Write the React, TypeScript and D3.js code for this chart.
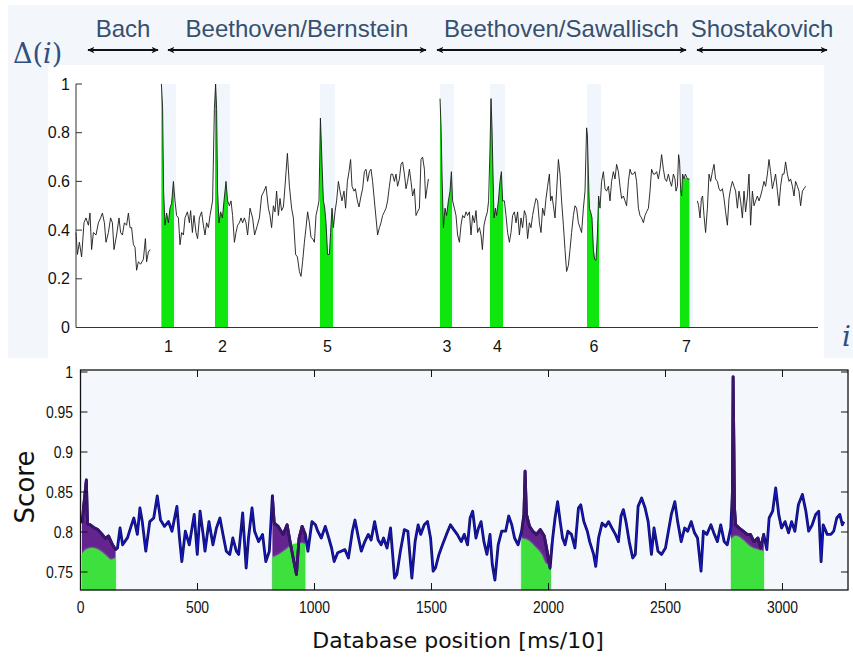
import React from "react";
import * as d3 from "d3";

type P = [number, number];

// ---------- top chart data (index i, Delta(i)) ----------
const composerNames = ["Bach", "Beethoven/Bernstein", "Beethoven/Sawallisch", "Shostakovich"];
const composerFrom = [5.5, 45.5, 180, 310];
const composerTo = [41.5, 175.5, 305.5, 376];
const deltaTicks = [0, 0.2, 0.4, 0.6, 0.8, 1];

const bachDelta: P[] = [[0,0.39],[0.7,0.30],[1.7,0.35],[2.8,0.29],[4,0.43],[5,0.45],[6.2,0.42],[7,0.47],[7.8,0.32],[8.7,0.39],[10,0.38],[11.2,0.43],[12.3,0.45],[13.2,0.47],[14.2,0.43],[15,0.35],[16.2,0.39],[17.3,0.45],[18.2,0.43],[19,0.32],[20.3,0.38],[21.5,0.45],[22.3,0.39],[23.2,0.38],[24.2,0.43],[25.3,0.42],[26.2,0.47],[27,0.41],[27.8,0.41],[28.7,0.34],[29.5,0.33],[30.3,0.235],[31.2,0.27],[32.3,0.26],[33.7,0.28],[34.7,0.365],[35.3,0.27],[36.2,0.31],[37,0.32]];

const bernsteinDelta: P[] = [[42.7,1.0],[43.3,0.90],[43.8,0.56],[44.5,0.42],[45.3,0.47],[46.2,0.43],[47,0.49],[47.8,0.51],[48.7,0.60],[49.5,0.52],[50.3,0.46],[51.2,0.45],[52,0.34],[52.8,0.39],[53.7,0.38],[54.5,0.45],[55.7,0.475],[56.7,0.43],[57.3,0.48],[58.2,0.39],[59,0.46],[60,0.39],[60.8,0.365],[61.7,0.45],[62.8,0.475],[63.7,0.42],[64.5,0.38],[65.3,0.43],[66.2,0.41],[67,0.46],[68.3,0.52],[69.2,0.90],[69.8,1.0],[70.3,0.90],[70.8,0.56],[71.5,0.43],[72.3,0.475],[73.2,0.45],[74,0.52],[75,0.60],[75.8,0.52],[76.7,0.50],[77.5,0.52],[78.3,0.46],[79.2,0.35],[80,0.39],[80.8,0.42],[81.7,0.43],[82.5,0.45],[83.3,0.43],[84.2,0.45],[85,0.43],[85.8,0.38],[86.7,0.46],[87,0.49],[88.3,0.45],[89.3,0.38],[90.7,0.42],[91.7,0.45],[92.8,0.54],[94,0.56],[95,0.58],[96.2,0.49],[97,0.46],[97.8,0.41],[98.7,0.50],[99.5,0.475],[100.3,0.56],[101.2,0.46],[102,0.53],[102.8,0.48],[103.7,0.495],[104.5,0.58],[105.7,0.715],[106.7,0.58],[107.8,0.49],[108.7,0.45],[109.8,0.30],[110.7,0.29],[111.7,0.23],[112.5,0.21],[113.3,0.27],[114.2,0.35],[115,0.41],[115.8,0.475],[116.7,0.43],[117.5,0.37],[118.3,0.365],[119.2,0.35],[120,0.46],[120.8,0.49],[121.5,0.52],[122.2,0.86],[122.7,0.75],[123.2,0.63],[123.7,0.52],[124.3,0.495],[125,0.43],[125.8,0.30],[126.7,0.30],[127.3,0.39],[128,0.49],[128.7,0.41],[129.5,0.475],[130.3,0.52],[131.2,0.60],[132,0.56],[133,0.52],[134,0.56],[134.8,0.49],[135.7,0.60],[136.5,0.64],[137.3,0.69],[138,0.58],[139,0.56],[139.7,0.57],[140.7,0.52],[141.5,0.495],[142.5,0.54],[143.3,0.57],[144.2,0.64],[145,0.65],[145.8,0.60],[146.7,0.64],[147.5,0.65],[148.3,0.60],[149.2,0.52],[150,0.45],[150.8,0.38],[151.7,0.41],[152.5,0.43],[153.3,0.46],[154.2,0.475],[155,0.49],[155.8,0.52],[156.7,0.58],[157.5,0.63],[158.3,0.63],[159.2,0.60],[160,0.63],[160.8,0.58],[161.7,0.61],[162.5,0.67],[163.3,0.68],[164.2,0.63],[165,0.57],[165.8,0.60],[166.7,0.65],[167.5,0.60],[168.3,0.54],[169.2,0.57],[170,0.46],[170.8,0.475],[171.7,0.49],[172.5,0.69],[173.3,0.70],[174.2,0.65],[174.8,0.53],[175.5,0.57],[176.2,0.61]];

const sawallischDelta: P[] = [[182,0.94],[182.5,0.83],[183,0.63],[183.7,0.41],[184.5,0.49],[185.3,0.46],[186.2,0.52],[187,0.56],[187.7,0.64],[188.3,0.52],[189.2,0.49],[190,0.46],[190.8,0.38],[191.7,0.35],[192.5,0.42],[193.3,0.46],[194.2,0.45],[195,0.475],[195.8,0.46],[196.7,0.475],[197.5,0.38],[198.3,0.46],[199.2,0.43],[200,0.48],[200.8,0.39],[201.7,0.41],[202.5,0.38],[203.2,0.32],[204,0.42],[204.8,0.45],[205.7,0.475],[206.3,0.52],[207,0.735],[207.5,0.94],[208,0.82],[208.5,0.63],[209,0.45],[209.7,0.49],[210.3,0.46],[211.2,0.52],[212,0.60],[212.7,0.64],[213.3,0.52],[214.2,0.52],[215,0.46],[215.8,0.39],[216.7,0.35],[217.5,0.39],[218.3,0.46],[219.2,0.475],[220,0.43],[220.8,0.475],[221.7,0.38],[222.5,0.45],[223.3,0.41],[224.2,0.48],[225,0.46],[225.8,0.365],[226.7,0.43],[227.5,0.41],[228.3,0.46],[229.2,0.50],[230,0.53],[230.8,0.52],[231.7,0.43],[232.5,0.39],[233.3,0.49],[234.2,0.46],[235,0.53],[235.8,0.58],[236.7,0.63],[237.3,0.52],[238,0.54],[238.7,0.50],[239.5,0.45],[240.3,0.56],[241.2,0.69],[242,0.63],[242.8,0.52],[243.7,0.42],[244.5,0.32],[245.3,0.23],[246.2,0.255],[247,0.32],[247.8,0.39],[248.7,0.46],[249.5,0.50],[250.3,0.49],[251.2,0.43],[252,0.41],[252.8,0.39],[253.7,0.49],[254.5,0.56],[255.3,0.82],[255.7,0.79],[256.2,0.63],[256.7,0.49],[257.3,0.475],[258,0.45],[258.7,0.32],[259.3,0.28],[260,0.276],[260.7,0.38],[261.3,0.54],[262,0.49],[262.8,0.60],[263.7,0.64],[264.5,0.57],[265.3,0.56],[266.2,0.58],[267,0.52],[267.8,0.60],[268.7,0.64],[269.5,0.61],[270.3,0.67],[271.2,0.64],[272,0.58],[272.8,0.53],[273.7,0.54],[274.5,0.52],[275.3,0.50],[276.2,0.60],[277,0.65],[277.8,0.63],[278.7,0.63],[279.5,0.64],[280.3,0.60],[281.2,0.49],[282,0.46],[282.8,0.45],[283.7,0.43],[284.5,0.46],[285.3,0.475],[286.2,0.49],[287,0.56],[287.8,0.65],[288.7,0.63],[289.5,0.63],[290.3,0.64],[291.2,0.61],[292,0.65],[292.8,0.71],[293.7,0.65],[294.5,0.61],[295.3,0.60],[296.2,0.63],[297,0.60],[297.8,0.58],[298.7,0.63],[299.5,0.61],[300,0.56],[300.7,0.58],[301.3,0.71],[301.8,0.68],[302.3,0.57],[302.8,0.54],[303.3,0.63],[304,0.61],[304.7,0.63],[305.7,0.61],[306.7,0.61]];

const shostakovichDelta: P[] = [[310.7,0.52],[311.3,0.50],[312,0.45],[312.7,0.53],[313.3,0.54],[314,0.46],[314.8,0.39],[315.7,0.49],[316.5,0.63],[317.3,0.60],[318.2,0.64],[319,0.67],[319.8,0.61],[320.7,0.60],[321.5,0.57],[322.3,0.56],[323.2,0.57],[324,0.53],[324.8,0.475],[325.7,0.42],[326.5,0.53],[327.3,0.57],[328.2,0.60],[329,0.58],[329.8,0.56],[330.7,0.49],[331.5,0.56],[332.3,0.52],[333.2,0.45],[334,0.56],[334.8,0.475],[335.7,0.54],[336.5,0.63],[337.3,0.42],[338.2,0.56],[339,0.50],[339.8,0.52],[340.7,0.54],[341.5,0.52],[342.3,0.54],[343.2,0.57],[344,0.60],[344.8,0.58],[345.7,0.63],[346.5,0.69],[347.3,0.64],[348.2,0.57],[349,0.60],[349.8,0.63],[350.7,0.56],[351.5,0.50],[352.3,0.58],[353.2,0.63],[354,0.63],[354.8,0.68],[355.7,0.63],[356.5,0.60],[357.3,0.61],[358.2,0.58],[359,0.54],[359.8,0.60],[360.7,0.58],[361.5,0.56],[362.3,0.50],[363.2,0.56],[364,0.57],[364.8,0.58]];

const matchLabels = ["1", "2", "5", "3", "4", "6", "7"];
const matchStart = [42.5, 69.5, 122, 182, 207, 255.5, 302];
const matchEnd = [49, 76, 128.5, 188, 213.5, 261.5, 307.5];
const matchCap = [1, 1, 1, 1, 1, 1, 0.615];

// ---------- bottom chart data (database position, score) ----------
const scorePoints: P[] = [[6,0.811],[25,0.865],[30,0.81],[42,0.809],[60,0.805],[74,0.803],[90,0.798],[106,0.792],[120,0.795],[137,0.784],[150,0.778],[158,0.78],[169,0.805],[180,0.784],[201,0.793],[216,0.807],[228,0.8175],[243,0.797],[254,0.830],[264,0.813],[279,0.776],[296,0.813],[313,0.8175],[328,0.845],[342,0.815],[359,0.807],[376,0.813],[391,0.801],[412,0.832],[423,0.7925],[433,0.763],[448,0.801],[465,0.784],[486,0.822],[499,0.772],[511,0.826],[524,0.797],[532,0.776],[549,0.813],[566,0.784],[581,0.805],[596,0.8175],[609,0.797],[623,0.776],[638,0.772],[651,0.7925],[666,0.776],[676,0.772],[693,0.824],[708,0.755],[718,0.7925],[733,0.830],[744,0.801],[761,0.788],[778,0.797],[792,0.763],[807,0.776],[820,0.845],[828,0.811],[845,0.807],[866,0.797],[883,0.809],[898,0.784],[909,0.7675],[923,0.747],[934,0.7925],[947,0.807],[961,0.797],[972,0.776],[989,0.813],[1004,0.809],[1014,0.801],[1029,0.7925],[1046,0.807],[1061,0.7925],[1073,0.780],[1084,0.763],[1099,0.774],[1114,0.776],[1130,0.778],[1145,0.7675],[1162,0.801],[1173,0.815],[1188,0.7925],[1200,0.776],[1215,0.788],[1230,0.797],[1242,0.790],[1257,0.813],[1272,0.790],[1285,0.784],[1295,0.7925],[1310,0.780],[1325,0.805],[1342,0.7425],[1352,0.747],[1367,0.776],[1384,0.803],[1399,0.801],[1416,0.7425],[1430,0.788],[1443,0.809],[1454,0.797],[1469,0.809],[1483,0.813],[1496,0.7925],[1507,0.751],[1517,0.755],[1532,0.772],[1547,0.784],[1564,0.797],[1581,0.809],[1595,0.803],[1610,0.797],[1627,0.788],[1640,0.797],[1654,0.784],[1665,0.8175],[1676,0.826],[1690,0.7925],[1701,0.805],[1712,0.813],[1724,0.788],[1737,0.772],[1750,0.797],[1760,0.759],[1771,0.740],[1785,0.784],[1800,0.801],[1817,0.801],[1830,0.820],[1843,0.809],[1855,0.7925],[1870,0.784],[1885,0.801],[1895,0.822],[1900,0.876],[1906,0.822],[1919,0.807],[1933,0.801],[1948,0.797],[1965,0.803],[1982,0.795],[1997,0.772],[2007,0.755],[2018,0.7925],[2028,0.8175],[2039,0.838],[2050,0.813],[2060,0.7925],[2071,0.784],[2083,0.801],[2098,0.797],[2113,0.780],[2128,0.830],[2138,0.834],[2151,0.813],[2166,0.801],[2176,0.788],[2193,0.772],[2202,0.757],[2214,0.7925],[2229,0.811],[2244,0.807],[2257,0.813],[2271,0.805],[2286,0.797],[2299,0.788],[2310,0.820],[2320,0.828],[2331,0.813],[2345,0.788],[2360,0.7675],[2371,0.772],[2383,0.832],[2398,0.8425],[2413,0.830],[2426,0.813],[2440,0.772],[2451,0.805],[2468,0.776],[2483,0.772],[2500,0.780],[2510,0.797],[2525,0.822],[2540,0.838],[2552,0.813],[2567,0.788],[2582,0.805],[2595,0.801],[2610,0.813],[2624,0.799],[2637,0.7925],[2652,0.751],[2662,0.801],[2677,0.797],[2694,0.809],[2709,0.797],[2722,0.788],[2736,0.809],[2751,0.788],[2764,0.784],[2779,0.805],[2786,0.85],[2789,0.994],[2792,0.92],[2795,0.83],[2800,0.809],[2815,0.805],[2832,0.801],[2849,0.797],[2863,0.797],[2878,0.788],[2895,0.7925],[2907,0.780],[2920,0.797],[2933,0.778],[2943,0.8175],[2958,0.826],[2971,0.855],[2984,0.822],[2996,0.805],[3011,0.813],[3026,0.799],[3039,0.813],[3053,0.801],[3068,0.834],[3085,0.847],[3100,0.826],[3112,0.801],[3127,0.809],[3142,0.822],[3155,0.826],[3165,0.763],[3174,0.809],[3191,0.797],[3207,0.797],[3219,0.801],[3232,0.8175],[3245,0.822],[3256,0.809],[3262,0.813]];

const regionStart = [6, 820, 1885, 2780];
const regionEnd = [150, 960, 2010, 2920];
const regionTop: P[][] = [
  [[6,0.772],[25,0.778],[50,0.780],[80,0.777],[110,0.770],[130,0.765],[150,0.768]],
  [[820,0.768],[850,0.772],[880,0.778],[910,0.785],[940,0.786],[960,0.785]],
  [[1885,0.792],[1910,0.790],[1940,0.782],[1970,0.772],[1990,0.760],[2010,0.758]],
  [[2780,0.790],[2800,0.795],[2830,0.790],[2860,0.782],[2890,0.778],[2920,0.776]],
];
const positionTicks = [0, 500, 1000, 1500, 2000, 2500, 3000];
const scoreTicks = [0.75, 0.8, 0.85, 0.9, 0.95, 1];

const W = 853;
const H = 660;

export default function App() {
  // top scales
  const xT = d3.scaleLinear().domain([0, 371]).range([76, 818]);
  const yT = d3.scaleLinear().domain([0, 1]).range([327.5, 84]);
  // bottom scales
  const xB = d3.scaleLinear().domain([0, 3280]).range([80.5, 848]);
  const yB = d3.scaleLinear().domain([0.7275, 1.0025]).range([590, 370]);

  const segments = [bachDelta, bernsteinDelta, sawallischDelta, shostakovichDelta];
  const lineT = d3.line<P>().x((d) => xT(d[0])).y((d) => yT(d[1]));

  const lineB = d3.line<P>().x((d) => xB(d[0])).y((d) => yB(d[1]));
  const purpleArea = d3.area<P>().x((d) => xB(d[0])).y0(yB(0.7275)).y1((d) => yB(d[1]));
  const greenArea = d3.area<P>().x((d) => xB(d[0])).y0(yB(0.7275)).y1((d) => yB(d[1])).curve(d3.curveMonotoneX);

  const sans = "'Liberation Sans', Arial, sans-serif";
  const labelColor = "#36506e";
  const mathColor = "#2e4f80";

  return (
    <svg width={W} height={H} style={{ position: "absolute", left: 0, top: 0 }} xmlns="http://www.w3.org/2000/svg">
      <defs>
        <marker id="ah" viewBox="0 0 10 10" refX="9" refY="5" markerWidth="9" markerHeight="7" markerUnits="userSpaceOnUse" orient="auto-start-reverse">
          <path d="M0,0.5 L10,5 L0,9.5 L2.5,5 z" fill="#111" />
        </marker>
        {matchStart.map((s, k) => (
          <clipPath id={`mclip${k}`} key={k}>
            <rect x={xT(s)} y={0} width={xT(matchEnd[k]) - xT(s)} height={H} />
          </clipPath>
        ))}
        {regionStart.map((s, k) => (
          <clipPath id={`rclip${k}`} key={k}>
            <rect x={xB(s)} y={0} width={xB(regionEnd[k]) - xB(s)} height={H} />
          </clipPath>
        ))}
        <filter id="soft" x="-10%" y="-10%" width="120%" height="120%">
          <feGaussianBlur stdDeviation="1.2" />
        </filter>
      </defs>

      <rect x={0} y={0} width={W} height={H} fill="#fff" />

      {/* ================= TOP PANEL ================= */}
      <rect x={8} y={5} width={845} height={353} fill="#f3f7fc" />
      <rect x={48} y={65} width={776} height={293} fill="#fff" />

      {/* composer labels and arrows */}
      {composerNames.map((name, k) => {
        const x1 = xT(composerFrom[k]);
        const x2 = xT(composerTo[k]);
        return (
          <g key={name}>
            <text x={(x1 + x2) / 2} y={37} textAnchor="middle" fontFamily={sans} fontSize={24} fill={labelColor}>
              {name}
            </text>
            <line x1={x1 + 1} x2={x2 - 1} y1={50} y2={50} stroke="#111" strokeWidth={2} markerStart="url(#ah)" markerEnd="url(#ah)" />
          </g>
        );
      })}

      <text x={13} y={63} fontFamily="'DejaVu Serif', 'Liberation Serif', serif" fontSize={27} fill={mathColor}>
        Δ(<tspan fontStyle="italic">i</tspan>)
      </text>
      <text x={842} y={346} fontFamily="'DejaVu Serif', 'Liberation Serif', serif" fontStyle="italic" fontSize={28} fill={mathColor}>
        i
      </text>

      {/* light shading behind matches */}
      {matchStart.map((s, k) => (
        <rect key={`sh${k}`} x={xT(s)} y={yT(1)} width={xT(matchEnd[k]) - xT(s) + 2} height={yT(0) - yT(1)} fill="#f0f6fc" />
      ))}

      {/* green match areas */}
      {matchStart.map((s, k) => {
        const cap = matchCap[k];
        const area = d3.area<P>().x((d) => xT(d[0])).y0(yT(0)).y1((d) => yT(Math.min(d[1], cap)));
        return (
          <g key={`m${k}`} clipPath={`url(#mclip${k})`}>
            {segments.map((seg, j) => (
              <path key={j} d={area(seg) || ""} fill="#0ee60e" />
            ))}
          </g>
        );
      })}

      {/* delta curve */}
      {segments.map((seg, j) => (
        <path key={`l${j}`} d={lineT(seg) || ""} fill="none" stroke="#1a1a1a" strokeWidth={0.9} />
      ))}

      {/* axes */}
      <line x1={76} x2={76} y1={yT(1)} y2={yT(0)} stroke="#333" strokeWidth={1} />
      <line x1={76} x2={818} y1={yT(0)} y2={yT(0)} stroke="#333" strokeWidth={1.2} />
      {deltaTicks.map((t) => (
        <g key={`dt${t}`}>
          <line x1={76} x2={82} y1={yT(t)} y2={yT(t)} stroke="#333" strokeWidth={1} />
          <text x={70} y={yT(t) + 5.5} textAnchor="end" fontFamily={sans} fontSize={16} fill="#111">
            {String(t)}
          </text>
        </g>
      ))}
      {matchLabels.map((lab, k) => (
        <text key={`ml${k}`} x={(xT(matchStart[k]) + xT(matchEnd[k])) / 2 + 1} y={352} textAnchor="middle" fontFamily={sans} fontSize={16} fill="#111">
          {lab}
        </text>
      ))}

      {/* ================= BOTTOM PANEL ================= */}
      <rect x={xB(0)} y={yB(1.0025)} width={xB(3280) - xB(0)} height={yB(0.7275) - yB(1.0025)} fill="#f4f8fc" />

      {/* purple fill between score and green */}
      {regionStart.map((s, k) => (
        <g key={`pr${k}`} clipPath={`url(#rclip${k})`}>
          <path d={purpleArea(scorePoints) || ""} fill="#63248f" />
        </g>
      ))}
      {/* green ground-truth regions */}
      {regionTop.map((pts, k) => (
        <g key={`gr${k}`}>
          <path d={greenArea(pts) || ""} fill="#8fe88f" filter="url(#soft)" />
          <path d={greenArea(pts) || ""} fill="#3ee03e" />
        </g>
      ))}

      {/* score curve */}
      <path d={lineB(scorePoints) || ""} fill="none" stroke="#0c0c66" strokeWidth={2.8} strokeLinejoin="round" />
      <path d={lineB(scorePoints) || ""} fill="none" stroke="#1818c8" strokeWidth={1.1} strokeLinejoin="round" />
      {regionStart.map((s, k) => (
        <g key={`pl${k}`} clipPath={`url(#rclip${k})`}>
          <path d={lineB(scorePoints) || ""} fill="none" stroke="#3a1468" strokeWidth={2.8} strokeLinejoin="round" />
        </g>
      ))}

      {/* frame */}
      <rect x={xB(0)} y={yB(1.0025)} width={xB(3280) - xB(0)} height={yB(0.7275) - yB(1.0025)} fill="none" stroke="#111" strokeWidth={1.3} />
      {positionTicks.map((t) => (
        <g key={`xt${t}`}>
          <line x1={xB(t)} x2={xB(t)} y1={590} y2={583} stroke="#111" strokeWidth={1} />
          <line x1={xB(t)} x2={xB(t)} y1={370} y2={377} stroke="#111" strokeWidth={1} />
          <text transform={`translate(${xB(t)},613) scale(0.82,1)`} textAnchor="middle" fontFamily={sans} fontSize={17} fill="#111">
            {t}
          </text>
        </g>
      ))}
      {scoreTicks.map((t) => (
        <g key={`yt${t}`}>
          <line x1={xB(0)} x2={xB(0) + 7} y1={yB(t)} y2={yB(t)} stroke="#111" strokeWidth={1} />
          <line x1={xB(3280)} x2={xB(3280) - 7} y1={yB(t)} y2={yB(t)} stroke="#111" strokeWidth={1} />
          <text transform={`translate(73,${yB(t) + 6}) scale(0.82,1)`} textAnchor="end" fontFamily={sans} fontSize={17} fill="#111">
            {String(t)}
          </text>
        </g>
      ))}

      <text transform="translate(34,487) rotate(-90)" textAnchor="middle" fontFamily="'DejaVu Sans', sans-serif" fontSize={26} fill="#111">
        Score
      </text>
      <text x={458} y={648} textAnchor="middle" fontFamily="'DejaVu Sans', sans-serif" fontSize={22} fill="#111">
        Database position [ms/10]
      </text>
    </svg>
  );
}
